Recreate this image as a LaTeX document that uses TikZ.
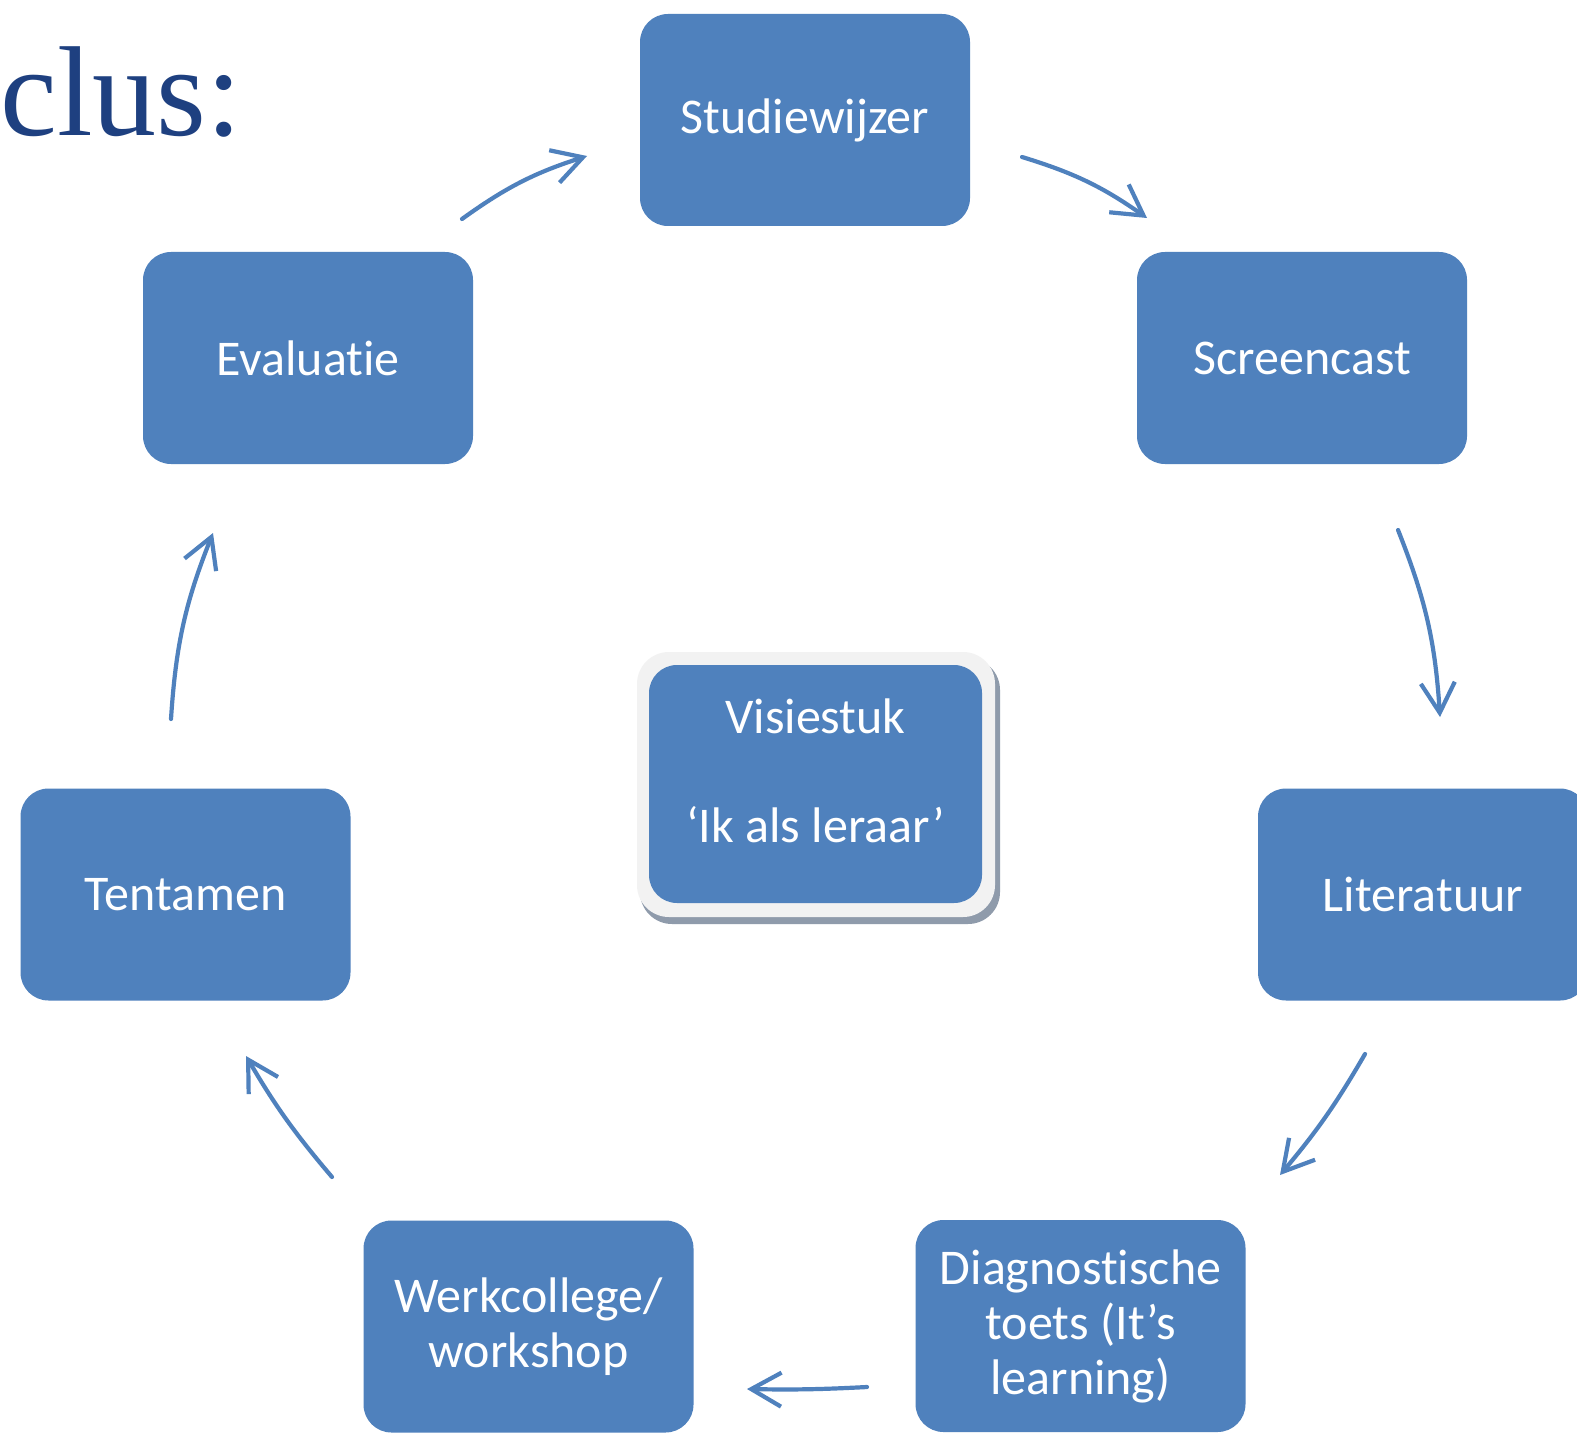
\documentclass[tikz,border=0pt]{standalone}
\usepackage{fontspec}
\setmainfont{Carlito}[Ligatures={NoCommon}]
\newfontfamily\titlefont{Liberation Serif}
\usetikzlibrary{arrows.meta}
\definecolor{boxblue}{RGB}{79,129,189}
\definecolor{titleblue}{RGB}{30,64,128}
\definecolor{framegray}{RGB}{242,242,242}
\definecolor{shadegray}{RGB}{143,155,171}
\begin{document}
\begin{tikzpicture}[x=0.5pt,y=-0.5pt,
  stagetext/.style={text=white, inner sep=0pt, align=center,
    font=\fontsize{25}{27.5}\selectfont},
  stage/.style={stagetext, fill=boxblue, rounded corners=14pt, minimum width=165pt,
    minimum height=106pt},
  cyc/.style={draw=boxblue, line width=2.1pt, line cap=round, line join=round,
    -{Straight Barb[length=15pt,width=17pt,line width=2.1pt]}}]
\useasboundingbox (0,0) rectangle (1577,1433);
\fill[white] (0,0) rectangle (1577,1433);

\node[anchor=base west, inner sep=0pt, text=titleblue,
  font=\titlefont\fontsize{64}{64}\selectfont] (title) at (0,136) {clus:};

\node[stage] (stud) at (805,120) {Studiewijzer};
\node[stage] (scr) at (1302,358) {Screencast};
\node[stage] (lit) at (1423,894.5) {Literatuur};
\node[stage] (diag) at (1080.5,1326) {Diagnostische\\toets (It’s\\learning)};
\node[stage] (werk) at (528.5,1326.5) {Werkcollege/\\workshop};
\node[stage] (tent) at (185.5,894.5) {Tentamen};
\node[stage] (eval) at (308,358) {Evaluatie};

\node[fill=shadegray, rounded corners=16pt, minimum width=180pt, minimum height=133pt, inner sep=0pt] (vshadow) at (820,791) {};
\node[fill=framegray, rounded corners=16pt, minimum width=179pt, minimum height=132.5pt, inner sep=0pt] (vframe) at (816,784.5) {};
\node[stage, minimum width=166.5pt, minimum height=119pt] (vis) at (815.5,784) {};
\node[stagetext] (vistext) at (815.5,771) {Visiestuk\\[27pt]‘Ik als leraar’};

\coordinate (a1s) at (462,219);   \coordinate (a1e) at (587,156);
\coordinate (a2s) at (1022,157);  \coordinate (a2e) at (1147,218);
\coordinate (a3s) at (1398,530);  \coordinate (a3e) at (1440,717);
\coordinate (a4s) at (1365,1054); \coordinate (a4e) at (1280,1175);
\coordinate (a5s) at (867,1387);  \coordinate (a5e) at (747,1389);
\coordinate (a6s) at (332,1177);  \coordinate (a6e) at (246,1056);
\coordinate (a7s) at (171,719);   \coordinate (a7e) at (213,533);

\draw[cyc] (a1s) to[bend left=9] (a1e);
\draw[cyc] (a2s) to[bend left=9] (a2e);
\draw[cyc] (a3s) to[bend left=9] (a3e);
\draw[cyc] (a4s) to[bend left=5] (a4e);
\draw[cyc] (a5s) to[bend left=2] (a5e);
\draw[cyc] (a6s) to[bend left=5] (a6e);
\draw[cyc] (a7s) to[bend left=9] (a7e);
\end{tikzpicture}
\end{document}
